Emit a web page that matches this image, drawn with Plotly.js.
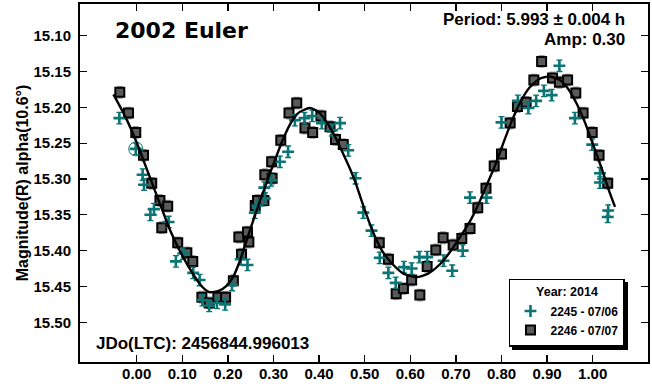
<!DOCTYPE html>
<html>
<head>
<meta charset="utf-8">
<script src="https://cdn.plot.ly/plotly-3.0.1.min.js"></script>
<style>
  html, body { margin: 0; padding: 0; background: #fff; }
  #chart { width: 652px; height: 387px; }
</style>
</head>
<body>
<div id="chart"></div>
<script>
// Session 2245 (2014-07-06): phase and R magnitude
const phase2245 = [-0.038, -0.002, 0.013, 0.016, 0.030, 0.038, 0.070, 0.086, 0.102, 0.124,
  0.138, 0.144, 0.159, 0.176, 0.194, 0.209, 0.228, 0.243, 0.259, 0.265,
  0.281, 0.280, 0.295, 0.314, 0.332, 0.347, 0.368, 0.385, 0.406, 0.428,
  0.446, 0.464, 0.480, 0.497, 0.515, 0.533, 0.552, 0.568, 0.586, 0.603,
  0.620, 0.637, 0.673, 0.692, 0.715, 0.731, 0.767, 0.800, 0.836, 0.859,
  0.876, 0.893, 0.910, 0.927, 0.961, 0.999, 1.016, 1.016, 1.034, 1.033];
const mag2245 = [15.215, 15.258, 15.294, 15.308, 15.350, 15.342, 15.360, 15.415, 15.404, 15.431,
  15.441, 15.469, 15.477, 15.473, 15.475, 15.448, 15.412, 15.420, 15.347, 15.337,
  15.327, 15.312, 15.302, 15.276, 15.262, 15.218, 15.215, 15.212, 15.222, 15.232,
  15.222, 15.260, 15.299, 15.347, 15.372, 15.410, 15.431, 15.445, 15.423, 15.425,
  15.409, 15.409, 15.414, 15.428, 15.400, 15.326, 15.326, 15.221, 15.191, 15.201,
  15.191, 15.177, 15.183, 15.142, 15.215, 15.252, 15.292, 15.305, 15.344, 15.353];

// Session 2246 (2014-07-07)
const phase2246 = [-0.037, -0.018, -0.002, 0.015, 0.033, 0.051, 0.068, 0.055, 0.090, 0.110,
  0.123, 0.143, 0.159, 0.178, 0.195, 0.212, 0.224, 0.230, 0.243, 0.246,
  0.260, 0.265, 0.279, 0.281, 0.296, 0.297, 0.316, 0.334, 0.351, 0.369,
  0.386, 0.404, 0.424, 0.436, 0.453, 0.532, 0.552, 0.569, 0.585, 0.603,
  0.621, 0.637, 0.656, 0.672, 0.694, 0.713, 0.731, 0.748, 0.766, 0.784,
  0.800, 0.819, 0.835, 0.854, 0.871, 0.888, 0.912, 0.927, 0.945, 0.963,
  0.979, 0.999, 1.014, 1.033];
const mag2246 = [15.179, 15.208, 15.235, 15.267, 15.306, 15.330, 15.338, 15.368, 15.389, 15.403,
  15.415, 15.465, 15.473, 15.465, 15.465, 15.442, 15.381, 15.405, 15.374, 15.388,
  15.337, 15.330, 15.330, 15.294, 15.276, 15.299, 15.246, 15.208, 15.194, 15.229,
  15.235, 15.212, 15.227, 15.245, 15.252, 15.389, 15.412, 15.460, 15.453, 15.441,
  15.462, 15.422, 15.399, 15.382, 15.392, 15.383, 15.369, 15.340, 15.313, 15.282,
  15.265, 15.222, 15.199, 15.193, 15.162, 15.136, 15.159, 15.165, 15.162, 15.180,
  15.208, 15.235, 15.267, 15.306];

// Photometric error of each observation (mag)
const magErr = 0.008;

// Reference point of the phased data (open circle)
const refPhase = [-0.002];
const refMag = [15.258];

// Fourier fit of the lightcurve
const fitPhase = [-0.051, -0.025, 0.000, 0.025, 0.050, 0.075, 0.100, 0.125, 0.143, 0.160,
  0.180, 0.197, 0.212, 0.227, 0.241, 0.256, 0.270, 0.285, 0.300, 0.318,
  0.336, 0.354, 0.379, 0.398, 0.417, 0.435, 0.453, 0.468, 0.480, 0.493,
  0.512, 0.526, 0.541, 0.563, 0.585, 0.614, 0.639, 0.665, 0.687, 0.709,
  0.731, 0.749, 0.768, 0.786, 0.804, 0.822, 0.841, 0.862, 0.884, 0.906,
  0.928, 0.946, 0.965, 0.983, 1.001, 1.020, 1.034, 1.049];
const fitMag = [15.182, 15.213, 15.249, 15.291, 15.333, 15.374, 15.407, 15.434, 15.450, 15.458,
  15.456, 15.449, 15.436, 15.413, 15.386, 15.357, 15.331, 15.305, 15.279, 15.249,
  15.224, 15.208, 15.201, 15.206, 15.221, 15.241, 15.265, 15.286, 15.305, 15.330,
  15.364, 15.385, 15.403, 15.420, 15.432, 15.437, 15.432, 15.419, 15.402, 15.381,
  15.359, 15.336, 15.308, 15.281, 15.250, 15.220, 15.193, 15.172, 15.160, 15.157,
  15.162, 15.174, 15.195, 15.221, 15.252, 15.286, 15.313, 15.339];

// Axis ticks
const xTicks = [0.0, 0.1, 0.2, 0.3, 0.4, 0.5, 0.6, 0.7, 0.8, 0.9, 1.0];
const xTickText = ['0.00', '0.10', '0.20', '0.30', '0.40', '0.50', '0.60', '0.70', '0.80', '0.90', '1.00'];
const yTicks = [15.10, 15.15, 15.20, 15.25, 15.30, 15.35, 15.40, 15.45, 15.50];
const yTickText = ['15.10', '15.15', '15.20', '15.25', '15.30', '15.35', '15.40', '15.45', '15.50'];

const TEAL = '#0b7474';
const FONT = 'Liberation Sans, Arial, sans-serif';

const traces = [
  {
    name: '2246 - 07/07',
    x: phase2246, y: mag2246,
    type: 'scatter', mode: 'markers',
    legendrank: 2,
    marker: { symbol: 'square', size: 9, color: '#5a5a5a', line: { color: '#000', width: 2 } },
    error_y: { type: 'constant', value: magErr, color: '#9c9c9c', thickness: 1.3, width: 3 }
  },
  {
    name: '2245 - 07/06',
    x: phase2245, y: mag2245,
    type: 'scatter', mode: 'markers',
    legendrank: 1,
    marker: { symbol: 'cross-thin', size: 8.5, color: TEAL, line: { color: TEAL, width: 2.6 } },
    error_y: { type: 'constant', value: magErr, color: TEAL, thickness: 1.3, width: 3 }
  },
  {
    x: refPhase, y: refMag,
    type: 'scatter', mode: 'markers', showlegend: false,
    marker: { symbol: 'circle-open', size: 14, color: TEAL, line: { color: TEAL, width: 1 } }
  },
  {
    x: fitPhase, y: fitMag,
    type: 'scatter', mode: 'lines', showlegend: false,
    line: { color: '#000', width: 2.4, shape: 'spline', smoothing: 0.6 }
  }
];

const axisCommon = {
  showgrid: false, zeroline: false,
  showline: true, linecolor: '#000', linewidth: 2, mirror: 'ticks',
  ticks: 'inside', ticklen: 7, tickwidth: 1.3, tickcolor: '#000',
  tickmode: 'array',
  tickfont: { family: FONT, size: 15, color: '#000', weight: 'bold' }
};

const layout = {
  width: 652, height: 387,
  margin: { l: 80, r: 4, t: 4, b: 25 },
  paper_bgcolor: '#fff', plot_bgcolor: '#fff',
  showlegend: true,
  xaxis: Object.assign({}, axisCommon, {
    range: [-0.1243, 1.1213],
    tickvals: xTicks, ticktext: xTickText,
    ticklabelstandoff: -3
  }),
  yaxis: Object.assign({}, axisCommon, {
    range: [15.5554, 15.0558],
    tickvals: yTicks, ticktext: yTickText,
    ticklabelstandoff: 4,
    title: {
      text: 'Magnitude(R) alpha(10.6°)',
      font: { family: FONT, size: 16, color: '#000', weight: 'bold' },
      standoff: 1
    }
  }),
  legend: {
    x: 0.9595, xanchor: 'right', y: 0.0427, yanchor: 'bottom',
    bgcolor: '#fff', bordercolor: '#000', borderwidth: 1.5,
    font: { family: FONT, size: 12, color: '#000', weight: 'bold' },
    title: { text: 'Year: 2014', side: 'top center', font: { family: FONT, size: 12.5, color: '#000', weight: 'bold' } },
    tracegroupgap: 0, itemwidth: 30
  },
  annotations: [
    {
      text: '2002 Euler', xref: 'paper', yref: 'paper', x: 0.0576, y: 0.926,
      xanchor: 'left', yanchor: 'middle', showarrow: false,
      font: { family: 'DejaVu Sans, sans-serif', size: 22, color: '#000', weight: 'bold' }
    },
    {
      text: 'Period: 5.993 ± 0.004 h', xref: 'paper', yref: 'paper', x: 0.9636, y: 0.9567,
      xanchor: 'right', yanchor: 'middle', showarrow: false,
      font: { family: FONT, size: 17, color: '#000', weight: 'bold' }
    },
    {
      text: 'Amp: 0.30', xref: 'paper', yref: 'paper', x: 0.9636, y: 0.9022,
      xanchor: 'right', yanchor: 'middle', showarrow: false,
      font: { family: FONT, size: 17, color: '#000', weight: 'bold' }
    },
    {
      text: 'JDo(LTC): 2456844.996013', xref: 'paper', yref: 'paper', x: 0.0252, y: 0.0508,
      xanchor: 'left', yanchor: 'middle', showarrow: false,
      font: { family: FONT, size: 17, color: '#000', weight: 'bold' }
    }
  ]
};

Plotly.newPlot('chart', traces, layout, { displayModeBar: false, staticPlot: true }).then(function (gd) {
  // drop shadow behind the legend box
  const bg = gd.querySelector('.legend rect.bg');
  if (bg) {
    const shadow = bg.cloneNode();
    shadow.setAttribute('class', 'legend-shadow');
    shadow.setAttribute('x', (parseFloat(bg.getAttribute('x')) || 0) + 3);
    shadow.setAttribute('y', (parseFloat(bg.getAttribute('y')) || 0) + 3);
    shadow.style.fill = '#000';
    shadow.style.stroke = '#000';
    bg.parentNode.insertBefore(shadow, bg);
  }
});
</script>
</body>
</html>
